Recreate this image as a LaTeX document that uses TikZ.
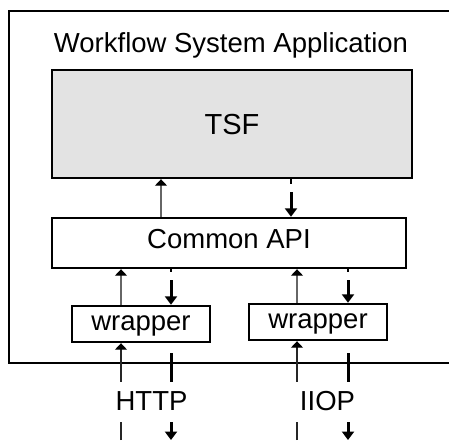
\documentclass[tikz,border=0pt]{standalone}
\usepackage{fontspec}
\setmainfont{Liberation Sans}
\usetikzlibrary{arrows.meta}
\definecolor{tsfgray}{HTML}{E3E3E3}
\begin{document}
\begin{tikzpicture}[x=1pt,y=-1pt,
  every node/.style={font=\fontsize{27.5pt}{33pt}\selectfont, inner sep=0pt},
  box/.style={draw=black, line width=2.4pt, fill=white, text height=20pt},
  frame/.style={line width=2.4pt},
  upflow/.style={draw=black!60, line width=1.1pt,
    -{Triangle[width=12pt,length=6.5pt,color=black]}},
  inflow/.style={upflow, draw=black!85},
  dnflow/.style={line width=3pt, -{Triangle[width=12pt,length=8.5pt]}},
  stub/.style={line width=2.2pt},
  proto/.style={fill=white, minimum width=116pt, minimum height=40pt,
    text height=20pt, text depth=4pt},
]
\useasboundingbox (0,0) rectangle (449,440);

% application frame, open towards the right edge
\draw[frame] (449,11) -- (9,11) -- (9,363) -- (449,363);
\node[anchor=base] (title) at (231,52) {Workflow System Application};

% layers
\node[box, fill=tsfgray, minimum width=360pt, minimum height=108pt,
  text depth=0pt, font=\fontsize{29pt}{34pt}\selectfont] (tsf) at (232,124) {TSF};
\node[box, minimum width=354pt, minimum height=50pt,
  text depth=10pt] (api) at (229,243) {Common API};
\node[box, minimum width=138pt, minimum height=36pt,
  text depth=8pt] (w1) at (141,324) {wrapper};
\node[box, minimum width=138pt, minimum height=36pt,
  text depth=8pt] (w2) at (318,322) {wrapper};

% columns of the connectors
\coordinate (xa) at (161,0);
\coordinate (xb) at (291,0);
\coordinate (xc) at (121,0);
\coordinate (xd) at (171,0);
\coordinate (xe) at (297,0);
\coordinate (xf) at (348,0);
\coordinate (in1) at (121,440);
\coordinate (out1) at (171,440);
\coordinate (in2) at (297,440);
\coordinate (out2) at (348,440);

% Common API <-> TSF
\draw[upflow] (api.north -| xa) -- (tsf.south -| xa);
\draw[stub] (tsf.south -| xb) -- ++(0,5);
\draw[dnflow, shorten <=13pt] (tsf.south -| xb) -- (api.north -| xb);

% wrappers <-> Common API
\draw[upflow] (w1.north -| xc) -- (api.south -| xc);
\draw[stub] (api.south -| xd) -- ++(0,3);
\draw[dnflow, shorten <=11pt] (api.south -| xd) -- (w1.north -| xd);
\draw[upflow] (w2.north -| xe) -- (api.south -| xe);
\draw[stub] (api.south -| xf) -- ++(0,3);
\draw[dnflow, shorten <=11pt] (api.south -| xf) -- (w2.north -| xf);

% protocols <-> wrappers
\draw[inflow] (in1) -- (w1.south -| in1);
\draw[dnflow, shorten <=10pt] (w1.south -| out1) -- (out1);
\draw[inflow] (in2) -- (w2.south -| in2);
\draw[dnflow, shorten <=12pt] (w2.south -| out2) -- (out2);

% protocol labels, set over the connectors
\node[proto] (http) at (151.5,402) {HTTP};
\node[proto] (iiop) at (327.5,402) {IIOP};
\end{tikzpicture}
\end{document}
